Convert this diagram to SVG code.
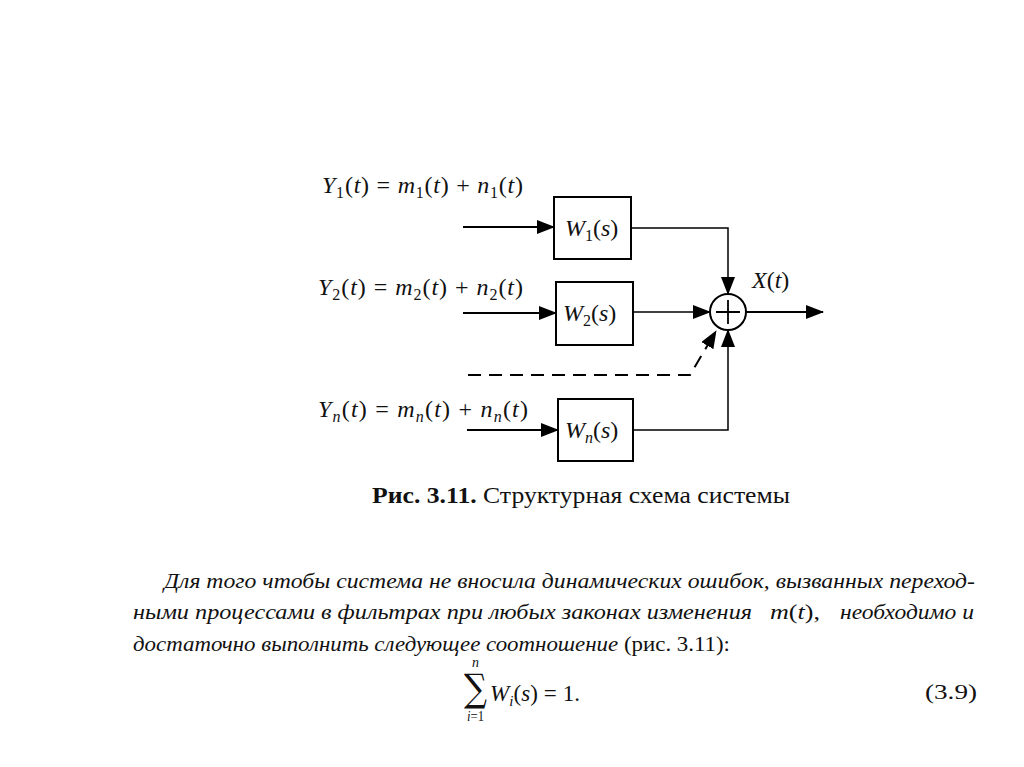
<svg xmlns="http://www.w3.org/2000/svg" width="1024" height="767" viewBox="0 0 1024 767">
<defs>
<marker id="ah" markerUnits="userSpaceOnUse" markerWidth="18" markerHeight="14" refX="17" refY="7" orient="auto"><path d="M0,0 L18,7 L0,14 Z" fill="#000"/></marker>
<style>
.t{font-family:"Liberation Serif","DejaVu Serif","Times New Roman",serif;fill:#111}
.m{font-size:24px}
.i{font-style:italic;font-family:"Liberation Serif","DejaVu Serif",serif}
.s{font-size:16px}
.box{fill:#fff;stroke:#000;stroke-width:2}
.ln{fill:none;stroke:#000;stroke-width:2}
.thin{fill:none;stroke:#000;stroke-width:1.5}
</style>
</defs>
<rect width="1024" height="767" fill="#fff"/>

<g id="label-y1"><text class="t m" x="322" y="193" textLength="201" lengthAdjust="spacing"><tspan class="i">Y</tspan><tspan class="s" dy="5">1</tspan><tspan dy="-5">(</tspan><tspan class="i">t</tspan>) = <tspan class="i">m</tspan><tspan class="s" dy="5">1</tspan><tspan dy="-5">(</tspan><tspan class="i">t</tspan>) + <tspan class="i">n</tspan><tspan class="s" dy="5">1</tspan><tspan dy="-5">(</tspan><tspan class="i">t</tspan>)</text></g>
<g id="label-y2"><text class="t m" x="318" y="295" textLength="205" lengthAdjust="spacing"><tspan class="i">Y</tspan><tspan class="s" dy="5">2</tspan><tspan dy="-5">(</tspan><tspan class="i">t</tspan>) = <tspan class="i">m</tspan><tspan class="s" dy="5">2</tspan><tspan dy="-5">(</tspan><tspan class="i">t</tspan>) + <tspan class="i">n</tspan><tspan class="s" dy="5">2</tspan><tspan dy="-5">(</tspan><tspan class="i">t</tspan>)</text></g>
<g id="label-yn"><text class="t m" x="318" y="417" textLength="210" lengthAdjust="spacing"><tspan class="i">Y</tspan><tspan class="s i" dy="5">n</tspan><tspan dy="-5">(</tspan><tspan class="i">t</tspan>) = <tspan class="i">m</tspan><tspan class="s i" dy="5">n</tspan><tspan dy="-5">(</tspan><tspan class="i">t</tspan>) + <tspan class="i">n</tspan><tspan class="s i" dy="5">n</tspan><tspan dy="-5">(</tspan><tspan class="i">t</tspan>)</text></g>

<g id="w1"><rect class="box" x="554" y="197" width="77" height="62"/><text class="t m" x="565" y="236"><tspan class="i">W</tspan><tspan class="s" dy="5">1</tspan><tspan dy="-5">(</tspan><tspan class="i">s</tspan>)</text></g>
<g id="w2"><rect class="box" x="556" y="282" width="77" height="63"/><text class="t m" x="563" y="321"><tspan class="i">W</tspan><tspan class="s" dy="5">2</tspan><tspan dy="-5">(</tspan><tspan class="i">s</tspan>)</text></g>
<g id="wn"><rect class="box" x="558" y="399" width="75" height="62"/><text class="t m" x="565" y="438"><tspan class="i">W</tspan><tspan class="s i" dy="5">n</tspan><tspan dy="-5">(</tspan><tspan class="i">s</tspan>)</text></g>

<g id="sum"><circle cx="728" cy="312" r="18" fill="#fff" stroke="#000" stroke-width="2"/><path d="M716,312 H740 M728,300 V324" stroke="#000" stroke-width="1.8"/></g>
<g id="label-x"><text class="t m" x="752" y="288"><tspan class="i">X</tspan>(<tspan class="i">t</tspan>)</text></g>

<g id="connectors">
<line class="ln" x1="463" y1="227" x2="554" y2="227" marker-end="url(#ah)"/>
<line class="ln" x1="463" y1="313" x2="556" y2="313" marker-end="url(#ah)"/>
<line class="ln" x1="467" y1="430" x2="558" y2="430" marker-end="url(#ah)"/>
<polyline class="thin" points="631,228 728,228 728,294" marker-end="url(#ah)"/>
<line class="thin" x1="633" y1="312" x2="710" y2="312" marker-end="url(#ah)"/>
<polyline class="thin" points="633,430 728,430 728,330" marker-end="url(#ah)"/>
<polyline class="ln" points="468,375 690,375 716,331" stroke-dasharray="13,8" marker-end="url(#ah)"/>
<line class="ln" x1="746" y1="312" x2="823" y2="312" marker-end="url(#ah)"/>
</g>

<g id="caption"><text class="t" x="372" y="503" font-size="23" textLength="418" lengthAdjust="spacingAndGlyphs"><tspan font-weight="bold">Рис. 3.11.</tspan> Структурная схема системы</text></g>

<g id="paragraph" class="t" font-size="22">
<text class="i" x="164" y="588" textLength="811" lengthAdjust="spacingAndGlyphs">Для того чтобы система не вносила динамических ошибок, вызванных переход-</text>
<text class="i" x="133" y="619" textLength="619" lengthAdjust="spacingAndGlyphs">ными процессами в фильтрах при любых законах изменения</text>
<text x="770" y="619" textLength="50" lengthAdjust="spacingAndGlyphs"><tspan class="i">m</tspan>(<tspan class="i">t</tspan>),</text>
<text class="i" x="840" y="619" textLength="134" lengthAdjust="spacingAndGlyphs">необходимо и</text>
<text x="133" y="651" textLength="597" lengthAdjust="spacingAndGlyphs"><tspan class="i">достаточно выполнить следующее соотношение</tspan> (рис. 3.11):</text>
</g>

<g id="equation" class="t">
<text x="464" y="701" font-size="38" font-family="DejaVu Serif" textLength="23" lengthAdjust="spacingAndGlyphs">∑</text>
<text class="i" x="472" y="667" font-size="14">n</text>
<text x="467" y="721" font-size="14" textLength="17" lengthAdjust="spacingAndGlyphs"><tspan class="i">i</tspan>=1</text>
<text x="490" y="701" font-size="23" textLength="90" lengthAdjust="spacing"><tspan class="i">W</tspan><tspan class="i" font-size="15" dy="5">i</tspan><tspan dy="-5">(</tspan><tspan class="i">s</tspan>) = 1.</text>
<text x="925" y="699" font-size="22" textLength="52" lengthAdjust="spacingAndGlyphs">(3.9)</text>
</g>
</svg>
